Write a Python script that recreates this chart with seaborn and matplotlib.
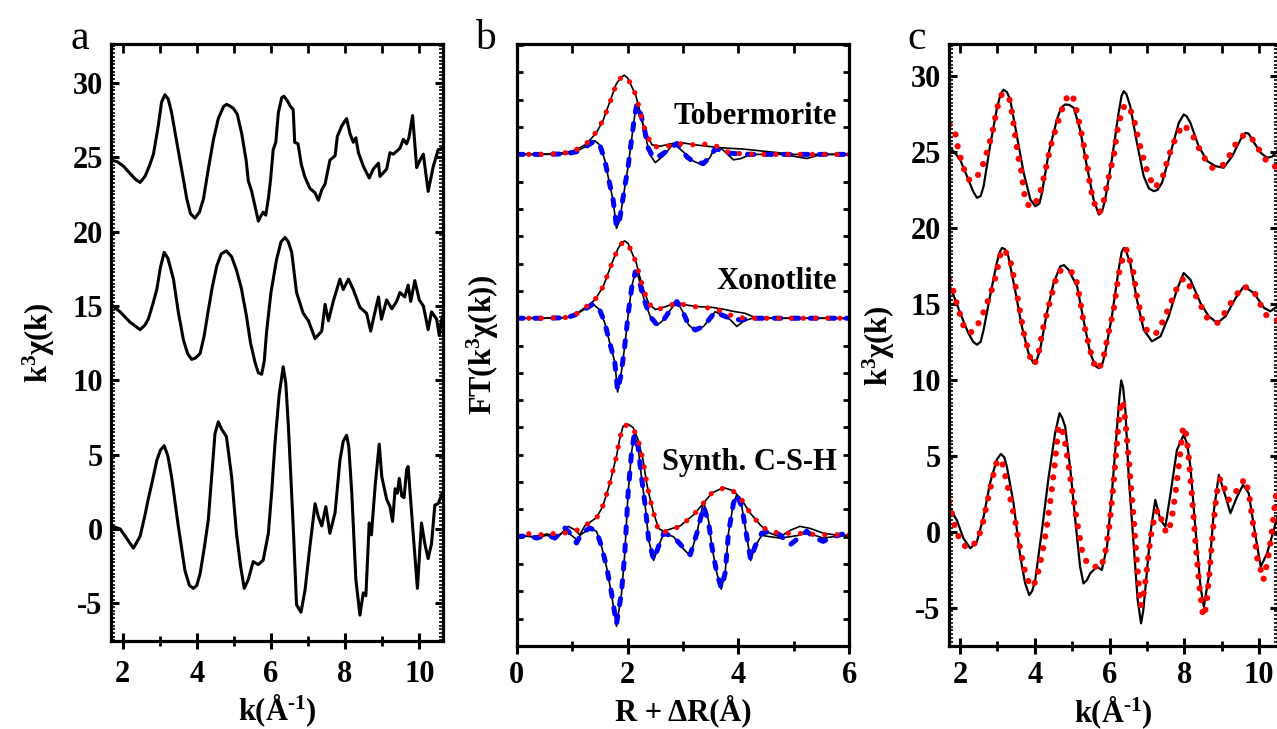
import matplotlib
matplotlib.use("Agg")
import matplotlib.pyplot as plt
import seaborn as sns
from matplotlib.ticker import MultipleLocator, NullFormatter

# ---------------- data: panel a (k^3 chi(k), raw) ----------------
a_tob_k = [1.69, 1.85, 2.02, 2.20, 2.35, 2.47, 2.60, 2.72, 2.83, 2.96, 3.05, 3.14, 3.23, 3.32, 3.46, 3.59, 3.73, 3.83,
           3.95, 4.07, 4.18, 4.31, 4.45, 4.58, 4.72, 4.80, 4.85, 4.98, 5.09, 5.21, 5.33, 5.39, 5.48, 5.57, 5.66, 5.72,
           5.79, 5.86, 5.93, 5.99, 6.06, 6.13, 6.20, 6.29, 6.35, 6.44, 6.53, 6.60, 6.64, 6.73, 6.82, 6.91, 7.05, 7.19,
           7.28, 7.37, 7.46, 7.59, 7.73, 7.79, 7.91, 8.04, 8.13, 8.22, 8.29, 8.36, 8.49, 8.65, 8.76, 8.90, 8.94, 9.12,
           9.21, 9.30, 9.39, 9.48, 9.57, 9.66, 9.72, 9.82, 9.93, 10.02, 10.11, 10.24, 10.38, 10.51, 10.62]
a_tob_y = [24.8, 24.7, 24.4, 23.9, 23.5, 23.3, 23.7, 24.4, 25.2, 27.1, 28.7, 29.2, 28.9, 28.0, 26.0, 24.2, 22.2, 21.2,
           20.9, 21.3, 22.2, 24.2, 26.2, 27.6, 28.4, 28.55, 28.5, 28.3, 27.9, 26.6, 24.8, 23.4, 22.7, 21.7, 20.7, 21.0,
           21.3, 21.1, 22.2, 23.5, 25.5, 26.0, 28.0, 29.0, 29.1, 28.8, 28.4, 28.2, 26.0, 25.9, 24.5, 23.7, 22.9, 22.6,
           22.1, 22.8, 23.2, 24.8, 25.1, 26.4, 27.1, 27.6, 26.6, 26.0, 26.3, 25.3, 24.4, 23.6, 24.2, 24.6, 23.7, 24.2,
           25.3, 25.2, 25.4, 25.6, 26.2, 25.9, 26.3, 27.8, 24.3, 24.8, 25.2, 22.7, 24.4, 25.5, 25.6]

a_xon_k = [1.69, 1.93, 2.20, 2.47, 2.60, 2.69, 2.80, 2.92, 3.02, 3.12, 3.22, 3.37, 3.50, 3.64, 3.75, 3.86, 3.97, 4.09,
           4.20, 4.31, 4.42, 4.54, 4.66, 4.80, 4.94, 5.07, 5.20, 5.34, 5.45, 5.57, 5.66, 5.75, 5.82, 5.88, 6.00, 6.15,
           6.27, 6.38, 6.47, 6.56, 6.69, 6.87, 7.01, 7.19, 7.37, 7.46, 7.55, 7.68, 7.86, 7.95, 8.09, 8.22, 8.40, 8.58,
           8.69, 8.76, 8.90, 8.98, 9.12, 9.26, 9.39, 9.48, 9.61, 9.70, 9.77, 9.88, 10.00, 10.11, 10.24, 10.33, 10.47,
           10.54, 10.62]
a_xon_y = [15.1, 14.6, 13.9, 13.4, 13.7, 14.1, 15.0, 16.1, 17.6, 18.6, 18.2, 16.8, 14.6, 12.7, 11.8, 11.4, 11.5, 11.8,
           13.0, 14.7, 16.3, 17.7, 18.5, 18.7, 18.3, 17.4, 16.2, 14.3, 12.5, 11.2, 10.5, 10.4, 11.3, 13.2, 15.9, 18.1,
           19.3, 19.6, 19.3, 18.6, 15.9, 14.5, 14.0, 12.8, 13.3, 15.1, 14.0, 15.3, 16.8, 16.1, 16.8, 16.1, 14.9, 14.5,
           13.3, 14.1, 15.6, 14.1, 15.4, 14.8, 15.3, 15.9, 15.6, 16.4, 15.3, 16.7, 15.4, 15.0, 13.4, 14.6, 14.1,
           13.0, 14.3]

a_csh_k = [1.69, 1.93, 2.10, 2.29, 2.47, 2.60, 2.69, 2.80, 2.92, 3.02, 3.12, 3.22, 3.32, 3.50, 3.68, 3.80, 3.91, 4.00,
           4.09, 4.20, 4.31, 4.40, 4.49, 4.58, 4.67, 4.75, 4.80, 4.94, 5.07, 5.18, 5.28, 5.39, 5.52, 5.66, 5.79, 5.93,
           6.02, 6.11, 6.22, 6.33, 6.40, 6.47, 6.60, 6.69, 6.81, 6.92, 7.05, 7.19, 7.28, 7.37, 7.48, 7.59, 7.73, 7.86,
           7.95, 8.04, 8.10, 8.18, 8.29, 8.40, 8.49, 8.56, 8.65, 8.71, 8.81, 8.92, 8.99, 9.12, 9.21, 9.28, 9.35, 9.41,
           9.46, 9.53, 9.59, 9.66, 9.70, 9.82, 9.95, 10.06, 10.15, 10.24, 10.33, 10.42, 10.51, 10.62]
a_csh_y = [0.2, 0.0, -0.6, -1.3, -0.5, 0.9, 2.0, 3.2, 4.6, 5.3, 5.6, 4.9, 3.5, 0.2, -2.8, -3.8, -4.0, -3.8,
           -3.0, -1.3, 0.6, 3.5, 6.4, 7.2, 6.7, 6.4, 6.2, 3.5, -0.3, -2.5, -4.0, -3.4, -2.2, -2.4, -2.1, -0.3,
           2.5, 5.8, 9.0, 10.9, 9.8, 6.9, 0.2, -5.1, -5.6, -4.1, -1.2, 1.7, 0.8, 0.2, 1.5, -0.3, 1.1, 4.6,
           5.9, 6.3, 5.5, 2.4, -3.4, -5.8, -4.3, -4.5, 0.4, -0.4, 2.9, 5.7, 3.5, 2.0, 1.5, 0.5, 2.7, 2.4,
           3.4, 2.2, 2.1, 4.0, 4.2, 0.2, -4.0, 0.4, -1.0, -2.0, -1.0, 1.6, 1.7, 2.4]

# ---------------- data: panel b (FT magnitude / imaginary part, offset) ----------------
b_tob_mag_r = [0, 0.4, 0.8, 1.0, 1.1, 1.26, 1.44, 1.56, 1.64, 1.72, 1.79, 1.87, 1.94, 2.00, 2.06, 2.15, 2.22, 2.27,
               2.33, 2.44, 2.59, 2.81, 3.0, 3.22, 3.43, 3.64, 3.85, 4.06, 4.3, 5.0, 6.0]
b_tob_mag_fit = [14.0, 14.0, 14.03, 14.1, 14.2, 14.4, 14.83, 15.26, 15.68, 16.1, 16.54, 16.78, 16.86, 16.78, 16.57,
                 16.17, 15.62, 15.16, 14.83, 14.30, 14.26, 14.34, 14.4, 14.34, 14.38, 14.28, 14.04, 14.03, 14.0,
                 14.0, 14.0]
b_tob_mag_obs = [14.0, 14.0, 14.05, 14.12, 14.2, 14.38, 14.8, 15.25, 15.7, 16.15, 16.55, 16.8, 16.9, 16.8, 16.55,
                 16.15, 15.6, 15.15, 14.8, 14.35, 14.3, 14.4, 14.42, 14.35, 14.3, 14.25, 14.22, 14.2, 14.15, 14.0,
                 14.0]
b_tob_im_r = [0, 0.5, 0.9, 1.08, 1.26, 1.41, 1.50, 1.59, 1.65, 1.74, 1.80, 1.86, 1.95, 2.01, 2.07, 2.13, 2.17, 2.25,
              2.32, 2.36, 2.44, 2.50, 2.65, 2.80, 2.89, 3.07, 3.19, 3.37, 3.49, 3.58, 3.67, 3.85, 4.2, 5.0, 6.0]
b_tob_im_fit = [14.0, 14.0, 14.02, 14.1, 14.3, 14.5, 14.34, 13.79, 13.18, 12.33, 11.35, 11.65, 12.82, 13.55, 14.52,
                15.44, 15.85, 15.38, 14.77, 14.28, 13.98, 13.85, 14.04, 14.26, 14.4, 13.91, 13.73, 13.67, 13.91,
                14.2, 14.16, 14.04, 14.0, 14.0, 14.0]
b_tob_im_obs_r = [0, 0.5, 0.9, 1.08, 1.26, 1.41, 1.50, 1.59, 1.65, 1.74, 1.80, 1.86, 1.95, 2.01, 2.07, 2.13, 2.17,
                  2.25, 2.32, 2.40, 2.50, 2.65, 2.83, 3.0, 3.19, 3.37, 3.49, 3.58, 3.70, 3.91, 4.05, 4.21, 4.8,
                  5.23, 5.5, 6.0]
b_tob_im_obs = [14.0, 14.0, 14.02, 14.12, 14.3, 14.5, 14.34, 13.79, 13.18, 12.3, 11.29, 11.6, 12.8, 13.55, 14.5,
                15.45, 15.87, 15.38, 14.7, 14.0, 13.7, 13.95, 14.4, 14.1, 13.75, 13.6, 13.9, 14.28, 14.2, 13.8,
                13.85, 14.0, 14.0, 13.85, 14.0, 14.0]

b_xon_mag_r = [0, 0.5, 0.9, 1.05, 1.26, 1.41, 1.56, 1.65, 1.74, 1.83, 1.90, 1.95, 2.01, 2.07, 2.16, 2.22, 2.29, 2.38,
               2.50, 2.68, 2.89, 3.10, 3.31, 3.52, 3.73, 3.91, 4.12, 4.33, 5.0, 6.0]
b_xon_mag_fit = [8.0, 8.0, 8.03, 8.12, 8.43, 8.67, 9.16, 9.65, 10.13, 10.56, 10.75, 10.80, 10.72, 10.44, 10.01, 9.52,
                 9.04, 8.55, 8.30, 8.40, 8.57, 8.45, 8.40, 8.37, 8.24, 8.06, 8.0, 8.0, 8.0, 8.0]
b_xon_mag_obs = [8.0, 8.0, 8.03, 8.12, 8.43, 8.67, 9.16, 9.65, 10.13, 10.56, 10.78, 10.83, 10.74, 10.44, 10.01, 9.52,
                 9.04, 8.55, 8.32, 8.42, 8.58, 8.47, 8.42, 8.40, 8.33, 8.25, 8.18, 8.0, 8.0, 8.0]
b_xon_im_r = [0, 0.5, 0.9, 1.05, 1.26, 1.38, 1.50, 1.59, 1.68, 1.77, 1.82, 1.88, 1.95, 2.02, 2.08, 2.14, 2.20, 2.25,
              2.32, 2.41, 2.53, 2.65, 2.77, 2.89, 3.01, 3.10, 3.22, 3.37, 3.49, 3.58, 3.70, 3.85, 4.03, 4.3, 5.0, 6.0]
b_xon_im_fit = [8.0, 8.0, 8.02, 8.12, 8.37, 8.52, 8.30, 7.82, 7.09, 6.4, 5.35, 5.9, 7.0, 8.3, 9.2, 9.7, 9.5, 9.04,
                8.55, 8.06, 7.76, 7.94, 8.30, 8.61, 8.18, 7.76, 7.57, 7.70, 8.0, 8.24, 8.12, 8.0, 7.94, 8.0, 8.0, 8.0]
b_xon_im_obs_r = [0, 0.5, 0.9, 1.05, 1.26, 1.38, 1.50, 1.59, 1.68, 1.77, 1.82, 1.88, 1.95, 2.02, 2.08, 2.14, 2.20,
                  2.25, 2.32, 2.41, 2.53, 2.65, 2.77, 2.89, 3.01, 3.10, 3.22, 3.37, 3.49, 3.58, 3.70, 3.85, 3.97,
                  4.10, 4.25, 5.0, 6.0]
b_xon_im_obs = [8.0, 8.0, 8.02, 8.12, 8.37, 8.52, 8.30, 7.82, 7.09, 6.4, 5.3, 5.9, 7.0, 8.3, 9.2, 9.7, 9.5, 9.04,
                8.55, 8.06, 7.74, 7.94, 8.30, 8.63, 8.18, 7.76, 7.55, 7.70, 8.0, 8.24, 8.12, 7.95, 7.70, 7.90, 8.0,
                8.0, 8.0]

b_csh_mag_r = [0, 0.21, 0.42, 0.63, 0.84, 1.05, 1.23, 1.44, 1.55, 1.62, 1.68, 1.74, 1.80, 1.86, 1.92, 2.01, 2.10,
               2.19, 2.28, 2.35, 2.41, 2.47, 2.56, 2.65, 2.77, 2.95, 3.19, 3.37, 3.52, 3.73, 3.91, 4.06, 4.21, 4.39,
               4.54, 4.75, 5.0, 5.5, 6.0]
b_csh_mag_fit = [0.07, 0.11, 0.07, 0.11, 0.13, 0.2, 0.4, 0.68, 1.11, 1.54, 1.96, 2.45, 2.94, 3.61, 4.04, 4.10, 3.98,
                 3.55, 2.82, 1.90, 1.35, 0.87, 0.2, 0.15, 0.26, 0.38, 0.80, 1.23, 1.6, 1.78, 1.66, 1.35, 0.87,
                 0.44, 0.2, 0.13, 0.13, 0.07, 0.07]
b_csh_mag_obs_r = [0, 0.3, 0.55, 0.75, 0.93, 1.05, 1.14, 1.23, 1.44, 1.55, 1.62, 1.68, 1.74, 1.80, 1.86, 1.92, 2.01,
                   2.10, 2.19, 2.28, 2.35, 2.41, 2.47, 2.56, 2.65, 2.77, 2.95, 3.19, 3.37, 3.52, 3.73, 3.91, 4.06,
                   4.21, 4.39, 4.54, 4.75, 4.95, 5.11, 5.3, 5.53, 5.8, 6.0]
b_csh_mag_obs = [0.05, 0.0, 0.1, 0.0, 0.38, 0.25, 0.07, 0.4, 0.7, 1.1, 1.55, 1.95, 2.45, 2.95, 3.6, 4.05, 4.12, 4.0,
                 3.55, 2.8, 1.9, 1.35, 0.87, 0.3, 0.2, 0.28, 0.4, 0.8, 1.23, 1.6, 1.8, 1.68, 1.35, 0.87, 0.44, 0.15,
                 0.0, 0.25, 0.38, 0.3, 0.13, 0.05, 0.05]
b_csh_im_r = [0, 0.21, 0.36, 0.54, 0.69, 0.87, 0.99, 1.08, 1.17, 1.32, 1.44, 1.53, 1.62, 1.71, 1.80, 1.89, 1.95, 2.01,
              2.07, 2.12, 2.19, 2.25, 2.32, 2.38, 2.47, 2.56, 2.65, 2.83, 3.01, 3.13, 3.25, 3.37, 3.46, 3.52, 3.61,
              3.69, 3.76, 3.82, 3.91, 3.97, 4.06, 4.15, 4.22, 4.30, 4.42, 4.57, 4.75, 4.93, 5.08, 5.23, 5.38, 5.53,
              5.71, 5.89, 6.0]
b_csh_im_fit = [0.0, 0.04, -0.05, 0.07, -0.05, 0.32, 0.07, -0.23, 0.13, 0.32, 0.2, -0.35, -1.09, -2.06, -3.2, -2.06,
                -0.6, 1.6, 3.06, 3.73, 3.30, 2.2, 1.11, -0.11, -0.84, -0.35, 0.13, 0.0, -0.41, -0.66, 0.13, 1.11,
                0.55, -0.35, -1.33, -1.88, -1.33, 0.13, 1.23, 1.54, 1.11, 0.0, -0.84, -0.35, 0.13, 0.2, 0.07, -0.3,
                -0.05, 0.2, -0.05, -0.17, 0.0, 0.1, 0.05]
b_csh_im_obs = [0.0, 0.02, -0.03, 0.05, -0.02, 0.2, 0.05, -0.1, 0.1, 0.3, 0.2, -0.35, -1.1, -2.1, -3.28, -2.1,
                -0.6, 1.6, 3.06, 3.75, 3.30, 2.2, 1.11, -0.11, -0.87, -0.35, 0.13, 0.0, -0.45, -0.7, 0.13, 1.29,
                0.6, -0.35, -1.33, -1.92, -1.33, 0.13, 1.23, 1.54, 1.11, 0.0, -0.87, -0.35, 0.05, 0.0, -0.05, 0.0,
                0.05, 0.15, 0.05, -0.05, 0.0, 0.05, 0.05]

b_labels = ["Tobermorite", "Xonotlite", "Synth. C-S-H"]
b_label_y = [15.38, 9.34, 2.71]

# ---------------- data: panel c (filtered k^3 chi(k): data and fit) ----------------
c_tob_k = [1.70, 1.82, 2.0, 2.22, 2.35, 2.45, 2.55, 2.63, 2.80, 2.98, 3.08, 3.16, 3.25, 3.34, 3.52, 3.70, 3.88, 4.01,
           4.12, 4.19, 4.37, 4.59, 4.70, 4.81, 4.92, 5.04, 5.21, 5.39, 5.57, 5.71, 5.80, 5.88, 6.06, 6.24, 6.32, 6.38,
           6.45, 6.55, 6.73, 6.91, 7.05, 7.18, 7.28, 7.40, 7.63, 7.85, 7.98, 8.06, 8.16, 8.38, 8.61, 8.83, 9.05, 9.28,
           9.50, 9.63, 9.72, 9.81, 10.04, 10.21, 10.35, 10.49]
c_tob_obs = [25.4, 25.05, 24.5, 23.19, 22.4, 21.98, 22.1, 22.75, 25.38, 27.80, 28.8, 29.1, 28.95, 28.46, 26.04, 23.63,
             21.87, 21.43, 21.6, 22.31, 24.95, 27.14, 27.9, 28.13, 28.1, 27.91, 26.48, 24.07, 21.87, 20.88, 21.1,
             21.87, 24.51, 27.58, 28.7, 29.01, 28.8, 28.02, 25.60, 23.41, 22.6, 22.42, 22.5, 22.97, 24.95, 26.92,
             27.47, 27.35, 26.92, 25.38, 24.40, 24.07, 23.96, 24.73, 25.82, 26.26, 26.2, 25.82, 24.95, 24.62, 24.7,
             25.1]
c_tob_fit_k = [1.71, 1.80, 1.87, 1.94, 2.0, 2.09, 2.22, 2.35, 2.49, 2.63, 2.71, 2.80, 2.88, 2.94, 3.01, 3.12, 3.22,
               3.32, 3.38, 3.47, 3.56, 3.63, 3.71, 3.80, 3.96, 4.13, 4.28, 4.41, 4.50, 4.68, 4.77, 4.86, 4.95, 5.02,
               5.08, 5.15, 5.28, 5.39, 5.48, 5.55, 5.63, 5.73, 5.84, 5.97, 6.11, 6.20, 6.27, 6.36, 6.44, 6.51, 6.64,
               6.78, 6.96, 7.05, 7.20, 7.40, 7.58, 7.80, 7.98, 8.21, 8.36, 8.53, 8.77, 9.06, 9.25, 9.41, 9.55, 9.68,
               9.80, 9.93, 10.10, 10.25, 10.38, 10.49]
c_tob_fit = [26.8, 26.6, 26.26, 25.3, 24.73, 23.96, 23.19, 23.1, 23.52, 24.29, 24.95, 25.71, 26.48, 27.25, 28.07,
             28.84, 28.8, 28.46, 27.69, 26.15, 24.62, 23.85, 22.31, 21.54, 21.38, 22.20, 23.74, 25.27, 26.04, 27.47,
             28.13, 28.6, 28.84, 28.6, 28.13, 27.36, 25.82, 24.29, 22.75, 21.98, 21.32, 20.99, 21.76, 23.30, 24.73,
             26.31, 27.10, 27.91, 28.1, 28.02, 27.25, 25.71, 24.07, 23.41, 22.64, 23.19, 24.73, 26.15, 26.81, 26.15,
             25.38, 24.62, 23.89, 24.18, 24.95, 25.71, 26.05, 26.15, 25.9, 25.45, 24.68, 24.3, 24.07, 24.0]

c_xon_k = [1.70, 1.82, 2.0, 2.22, 2.35, 2.45, 2.55, 2.63, 2.80, 2.98, 3.06, 3.12, 3.20, 3.29, 3.47, 3.65, 3.83, 3.96,
           4.05, 4.14, 4.32, 4.50, 4.68, 4.78, 4.90, 5.13, 5.30, 5.48, 5.62, 5.71, 5.80, 5.88, 6.06, 6.24, 6.32, 6.38,
           6.45, 6.55, 6.73, 6.91, 7.13, 7.36, 7.58, 7.80, 7.98, 8.16, 8.43, 8.65, 8.88, 9.10, 9.37, 9.59, 9.86,
           10.13, 10.30, 10.49]
c_xon_obs = [16.3, 15.6, 14.4, 13.08, 12.5, 12.31, 12.5, 13.30, 15.49, 17.69, 18.4, 18.68, 18.6, 18.13, 15.93, 13.52,
             11.76, 11.10, 11.3, 11.98, 14.40, 16.37, 17.47, 17.55, 17.25, 16.15, 13.96, 11.76, 10.9, 10.77, 11.0,
             11.76, 14.18, 17.25, 18.4, 18.68, 18.4, 17.69, 15.27, 13.30, 12.53, 12.86, 14.18, 15.93, 17.03, 16.59,
             15.05, 14.18, 13.74, 14.18, 15.38, 16.15, 15.71, 14.73, 14.51, 14.84]
c_xon_fit_k = [1.71, 1.84, 1.91, 2.0, 2.11, 2.24, 2.36, 2.55, 2.67, 2.79, 2.89, 2.98, 3.04, 3.12, 3.29, 3.38, 3.50,
               3.61, 3.72, 3.88, 3.99, 4.10, 4.21, 4.37, 4.53, 4.64, 4.77, 4.95, 5.08, 5.20, 5.30, 5.44, 5.57, 5.71,
               5.84, 5.97, 6.11, 6.24, 6.38, 6.46, 6.55, 6.64, 6.73, 6.87, 6.98, 7.22, 7.40, 7.54, 7.67, 7.80, 7.98,
               8.21, 8.34, 8.47, 8.61, 8.88, 9.14, 9.32, 9.57, 9.75, 9.86, 9.99, 10.17, 10.40, 10.49]
c_xon_fit = [16.6, 15.71, 15.01, 14.29, 13.41, 13.1, 13.19, 13.96, 14.73, 15.49, 16.26, 17.03, 17.9, 18.6, 18.24,
             17.47, 15.93, 14.40, 12.86, 11.43, 10.99, 11.76, 13.30, 14.84, 16.37, 17.14, 17.25, 17.14, 16.92, 15.38,
             13.85, 12.31, 11.10, 10.66, 11.54, 13.08, 14.62, 16.92, 18.35, 18.57, 17.80, 17.03, 15.49, 13.96, 13.30,
             12.97, 13.74, 14.51, 15.27, 16.04, 16.70, 15.93, 15.38, 14.73, 14.07, 13.74, 14.62, 15.38, 16.15, 16.0,
             15.82, 15.16, 14.29, 13.96, 13.9]

c_csh_k = [1.70, 1.80, 1.91, 2.09, 2.27, 2.45, 2.63, 2.80, 2.98, 3.09, 3.18, 3.25, 3.43, 3.61, 3.74, 3.85, 3.93, 4.01,
           4.19, 4.37, 4.54, 4.66, 4.73, 4.81, 4.95, 5.08, 5.21, 5.30, 5.39, 5.48, 5.66, 5.79, 5.93, 6.06, 6.20, 6.26,
           6.31, 6.36, 6.42, 6.51, 6.64, 6.75, 6.84, 6.90, 6.96, 7.09, 7.22, 7.36, 7.49, 7.63, 7.80, 7.98, 8.07, 8.16,
           8.29, 8.43, 8.52, 8.65, 8.79, 8.92, 9.10, 9.23, 9.41, 9.57, 9.72, 9.86, 10.04, 10.21, 10.39, 10.49]
c_csh_obs = [1.76, 1.2, 0.77, -0.44, -1.10, -0.66, 0.99, 3.19, 4.73, 5.12, 4.9, 4.29, 1.87, -1.65, -3.41, -4.18, -3.9,
             -3.19, 0.11, 3.63, 6.48, 7.80, 7.5, 6.92, 4.07, 0.77, -2.31, -3.41, -3.2, -2.75, -2.31, -2.53, -0.99,
             2.53, 6.92, 8.8, 9.96, 9.5, 8.02, 3.63, -0.77, -4.51, -6.04, -5.2, -3.63, -0.11, 2.09, 0.77, 0.33, 2.53,
             5.38, 6.37, 5.8, 4.29, 0.33, -3.63, -4.95, -2.97, 1.43, 3.74, 2.31, 1.21, 2.31, 3.08, 2.53, 0.33, -2.31,
             -1.43, 0.11, 0.99]
c_csh_fit_k = [1.71, 1.78, 1.85, 1.96, 2.10, 2.22, 2.35, 2.45, 2.58, 2.71, 2.85, 2.95, 3.03, 3.12, 3.25, 3.38, 3.50,
               3.56, 3.68, 3.76, 3.89, 3.97, 4.05, 4.19, 4.30, 4.43, 4.54, 4.63, 4.70, 4.78, 4.86, 4.95, 5.05, 5.15,
               5.26, 5.35, 5.50, 5.62, 5.75, 5.87, 6.00, 6.11, 6.22, 6.30, 6.35, 6.42, 6.52, 6.64, 6.75, 6.82, 6.88,
               6.96, 7.10, 7.22, 7.31, 7.40, 7.52, 7.64, 7.76, 7.88, 7.96, 8.02, 8.10, 8.20, 8.30, 8.40, 8.50, 8.58,
               8.66, 8.76, 8.86, 8.96, 9.08, 9.19, 9.33, 9.46, 9.62, 9.72, 9.82, 9.95, 10.05, 10.11, 10.22, 10.32,
               10.40, 10.48]
c_csh_fit = [1.98, 1.21, 0.44, -0.33, -0.9, -1.10, -0.9, -0.55, 0.22, 1.76, 3.30, 4.4, 4.77, 4.6, 3.23, 1.76, 0.4,
             -0.55, -2.04, -2.86, -3.63, -3.5, -3.08, -1.54, 0.0, 2.31, 4.62, 6.9, 6.95, 6.3, 5.05, 3.52, 1.87, 0.33,
             -1.21, -1.87, -2.3, -2.31, -2.42, -1.6, 0.5, 3.3, 6.6, 8.5, 8.6, 7.3, 4.5, 1.0, -2.6, -4.9, -4.6, -3.2,
             -0.3, 1.2, 1.43, 0.66, -0.11, 0.55, 2.5, 5.0, 6.8, 6.9, 5.3, 2.4, -0.8, -3.6, -5.6, -5.0, -3.0, 0.0,
             2.5, 3.5, 2.8, 2.09, 2.4, 3.0, 3.47, 2.6, 0.8, -1.8, -2.6, -3.19, -2.0, -0.4, 1.4, 2.9]

# ---------------- style ----------------
sns.set_theme(style="white")
plt.rcParams["font.family"] = ["Liberation Serif", "DejaVu Serif"]
plt.rcParams["font.weight"] = "bold"
plt.rcParams["axes.labelweight"] = "bold"
plt.rcParams["text.color"] = "black"
plt.rcParams["axes.labelcolor"] = "black"
plt.rcParams["xtick.color"] = "black"
plt.rcParams["ytick.color"] = "black"
plt.rcParams["mathtext.fontset"] = "custom"
plt.rcParams["mathtext.rm"] = "Liberation Serif:bold"
plt.rcParams["mathtext.bf"] = "Liberation Serif:bold"
plt.rcParams["mathtext.it"] = "Liberation Serif:bold"
plt.rcParams["mathtext.default"] = "rm"
plt.rcParams["axes.unicode_minus"] = False

TICK_FS = 22
LABEL_FS = 22

fig = plt.figure(figsize=(12.77, 7.29), dpi=100)
ax_a = fig.add_axes([0.0869, 0.1207, 0.2600, 0.8183])
ax_b = fig.add_axes([0.4046, 0.1139, 0.2605, 0.8253])
ax_c = fig.add_axes([0.7432, 0.1139, 0.2572, 0.8253])


def draw(ax, x, y, **kw):
    sns.lineplot(x=x, y=y, ax=ax, sort=False, estimator=None, errorbar=None, legend=False, **kw)


RED = "#ff0000"
BLUE = "#0000ff"

# panel a
for kk, yy in [(a_tob_k, a_tob_y), (a_xon_k, a_xon_y), (a_csh_k, a_csh_y)]:
    draw(ax_a, kk, yy, color="black", linewidth=2.2)

# panel b
b_sets = [
    (b_tob_mag_r, b_tob_mag_obs, b_tob_mag_fit, b_tob_im_obs_r, b_tob_im_obs, b_tob_im_r, b_tob_im_fit, b_tob_mag_r),
    (b_xon_mag_r, b_xon_mag_obs, b_xon_mag_fit, b_xon_im_obs_r, b_xon_im_obs, b_xon_im_r, b_xon_im_fit, b_xon_mag_r),
    (b_csh_mag_obs_r, b_csh_mag_obs, b_csh_mag_fit, b_csh_im_r, b_csh_im_obs, b_csh_im_r, b_csh_im_fit, b_csh_mag_r),
]
for mag_obs_r, mag_obs, mag_fit, im_obs_r, im_obs, im_r, im_fit, mag_fit_r in b_sets:
    draw(ax_b, mag_obs_r, mag_obs, color="black", linewidth=1.2)
    draw(ax_b, im_obs_r, im_obs, color="black", linewidth=1.2)
    draw(ax_b, im_r, im_fit, color=BLUE, linewidth=3.6, linestyle=(0, (1.3, 2.3)),
         dash_capstyle="round")
    draw(ax_b, mag_fit_r, mag_fit, color=RED, linewidth=3.8, linestyle=(0, (0.01, 2.3)),
         dash_capstyle="round")

for txt, yy in zip(b_labels, b_label_y):
    ax_b.text(5.78, yy, txt, ha="right", va="center", fontsize=LABEL_FS, fontweight="bold", color="black")

# panel c
for kk, yo, kf, yf in [(c_tob_k, c_tob_obs, c_tob_fit_k, c_tob_fit),
                       (c_xon_k, c_xon_obs, c_xon_fit_k, c_xon_fit),
                       (c_csh_k, c_csh_obs, c_csh_fit_k, c_csh_fit)]:
    draw(ax_c, kk, yo, color="black", linewidth=1.6)
    draw(ax_c, kf, yf, color=RED, linewidth=4.5, linestyle=(0, (0.01, 1.9)), dash_capstyle="round")

# ---------------- axes formatting ----------------
ax_a.set_xlim(1.685, 10.64)
ax_a.set_ylim(-7.54, 32.58)
ax_b.set_xlim(0, 6)
ax_b.set_ylim(-4.0, 18.03)
ax_c.set_xlim(1.705, 10.49)
ax_c.set_ylim(-7.53, 32.09)

for ax in (ax_a, ax_b, ax_c):
    for sp in ax.spines.values():
        sp.set_visible(True)
        sp.set_linewidth(2.3)
        sp.set_color("black")
    ax.set_facecolor("white")
    ax.grid(False)
    ax.tick_params(axis="x", which="both", direction="inout", bottom=True, top=False,
                   labelsize=TICK_FS, colors="black")
    ax.tick_params(axis="x", which="major", length=12, width=2.2)
    ax.tick_params(axis="x", which="minor", length=7, width=2.0)
    ax.tick_params(axis="y", which="both", direction="in", left=True, right=True,
                   labelsize=TICK_FS, colors="black")
    sec = ax.secondary_xaxis("top")
    sec.xaxis.set_major_locator(MultipleLocator(1))
    sec.xaxis.set_major_formatter(NullFormatter())
    sec.tick_params(axis="x", which="major", direction="in", length=6.5, width=2.0, top=True, labeltop=False)
    for sp in sec.spines.values():
        sp.set_visible(False)

for ax in (ax_a, ax_c):
    ax.xaxis.set_major_locator(MultipleLocator(2))
    ax.xaxis.set_minor_locator(MultipleLocator(1))
    ax.yaxis.set_major_locator(MultipleLocator(5))
    ax.yaxis.set_minor_locator(MultipleLocator(0.25))
    ax.tick_params(axis="y", which="major", length=6, width=2.2, pad=6)
    ax.tick_params(axis="y", which="minor", length=2.6, width=1.2)

ax_a.tick_params(axis="x", which="both", pad=8)
ax_c.tick_params(axis="x", which="both", pad=5)

ax_b.xaxis.set_major_locator(MultipleLocator(2))
ax_b.xaxis.set_minor_locator(MultipleLocator(1))
ax_b.yaxis.set_major_locator(MultipleLocator(1))
ax_b.yaxis.set_major_formatter(NullFormatter())
ax_b.tick_params(axis="y", which="major", length=4.5, width=2.0)
ax_b.tick_params(axis="x", which="both", pad=5)

# labels
ax_a.set_xlabel(r"k(Å$^{\text{-1}}$)", fontsize=LABEL_FS, fontweight="bold", color="black")
ax_b.set_xlabel("R + ΔR(Å)", fontsize=LABEL_FS, fontweight="bold", color="black")
ax_c.set_xlabel(r"k(Å$^{\text{-1}}$)", fontsize=LABEL_FS, fontweight="bold", color="black")
ax_a.set_ylabel("k$^{3}$χ(k)", fontsize=LABEL_FS, fontweight="bold", color="black")
ax_b.set_ylabel("FT(k$^{3}$χ(k))", fontsize=LABEL_FS, fontweight="bold", color="black")
ax_c.set_ylabel("k$^{3}$χ(k)", fontsize=LABEL_FS, fontweight="bold", color="black")

ax_a.xaxis.set_label_coords(0.5, -0.087)
ax_b.xaxis.set_label_coords(0.5, -0.08)
ax_c.xaxis.set_label_coords(0.5, -0.08)
ax_a.yaxis.set_label_coords(-0.163, 0.5)
ax_b.yaxis.set_label_coords(-0.046, 0.5)
ax_c.yaxis.set_label_coords(-0.158, 0.5)

# panel letters
for x_px, letter in [(70, "a"), (475, "b"), (907, "c")]:
    fig.text(x_px / 1277, 1 - 49 / 729, letter, fontsize=30, fontweight="normal",
             ha="left", va="baseline", color="black")

fig.savefig("out.png", dpi=100, facecolor="white")
